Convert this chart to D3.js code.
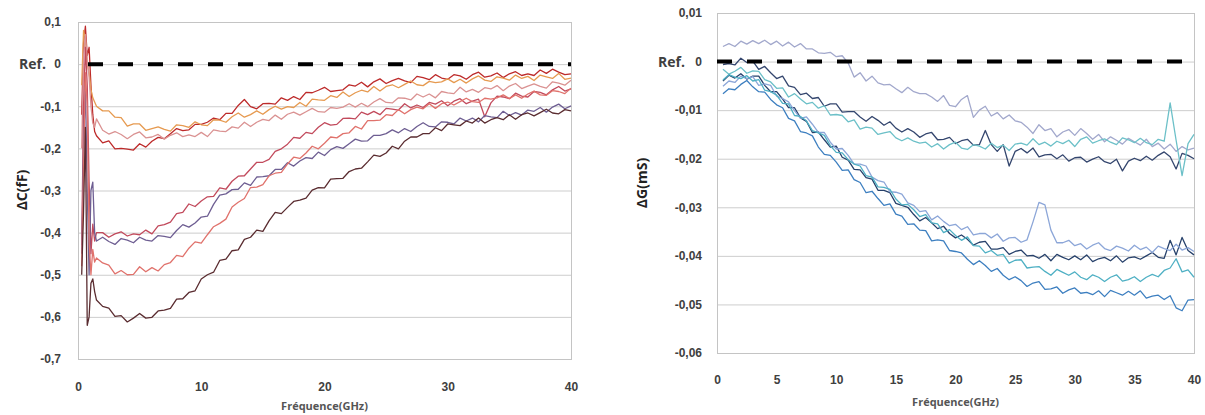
<!DOCTYPE html>
<html>
<head>
<meta charset="utf-8">
<script src="https://cdn.jsdelivr.net/npm/d3@7"></script>
<style>
body { margin: 0; background: #fff; }
svg { display: block; font-family: 'Open Sans', sans-serif; }
.grid line { stroke: #cdcdcd; stroke-width: 1; }
.grid .domain { display: none; }
.xaxis .domain { display: none; }
.tick text { fill: #404040; font-weight: bold; font-size: 12px; }
.series { fill: none; stroke-width: 1.3; stroke-linejoin: round; }
</style>
</head>
<body>
<svg width="1205" height="415"></svg>
<script>
// ---- left chart: delta C (fF) vs frequency ----
var leftFreq = [0.3,0.45,0.6,0.75,0.9,1.05,1.2,1.35,1.5,
    2,2.5,3,3.5,4,4.5,5,5.5,6,6.5,
    7,7.5,8,8.5,9,9.5,10,10.5,11,11.5,
    12,12.5,13,13.5,14,14.5,15,15.5,16,16.5,
    17,17.5,18,18.5,19,19.5,20,20.5,21,21.5,
    22,22.5,23,23.5,24,24.5,25,25.5,26,26.5,
    27,27.5,28,28.5,29,29.5,30,30.5,31,31.5,
    32,32.5,33,33.5,34,34.5,35,35.5,36,36.5,
    37,37.5,38,38.5,39,39.5,40];

var leftRed = [-0.12,0.05,0.09,0.02,0.04,-0.05,-0.12,-0.16,-0.17,
    -0.187,-0.182,-0.201,-0.2,-0.202,-0.204,-0.189,-0.197,-0.183,-0.174,
    -0.177,-0.165,-0.153,-0.158,-0.156,-0.143,-0.143,-0.138,-0.128,-0.132,
    -0.117,-0.117,-0.098,-0.084,-0.101,-0.106,-0.094,-0.093,-0.095,-0.08,
    -0.086,-0.077,-0.084,-0.067,-0.068,-0.062,-0.055,-0.065,-0.063,-0.061,
    -0.049,-0.052,-0.043,-0.054,-0.042,-0.035,-0.046,-0.039,-0.034,-0.04,
    -0.044,-0.029,-0.032,-0.037,-0.025,-0.033,-0.036,-0.025,-0.028,-0.036,
    -0.025,-0.019,-0.031,-0.028,-0.021,-0.032,-0.023,-0.018,-0.027,-0.023,
    -0.027,-0.014,-0.022,-0.012,-0.019,-0.025,-0.023];
var leftOrange = [-0.05,0.08,0.06,0,-0.02,-0.06,-0.08,-0.09,-0.1,
    -0.111,-0.111,-0.126,-0.127,-0.147,-0.142,-0.142,-0.157,-0.153,-0.149,
    -0.155,-0.159,-0.144,-0.146,-0.15,-0.137,-0.144,-0.146,-0.132,-0.133,
    -0.138,-0.125,-0.116,-0.126,-0.12,-0.111,-0.119,-0.108,-0.1,-0.107,
    -0.101,-0.103,-0.091,-0.1,-0.083,-0.085,-0.086,-0.075,-0.079,-0.066,
    -0.077,-0.068,-0.062,-0.066,-0.053,-0.064,-0.053,-0.049,-0.056,-0.048,
    -0.04,-0.049,-0.051,-0.041,-0.044,-0.042,-0.035,-0.044,-0.036,-0.045,
    -0.035,-0.028,-0.038,-0.041,-0.03,-0.033,-0.038,-0.026,-0.034,-0.029,
    -0.039,-0.026,-0.03,-0.034,-0.022,-0.036,-0.033];
var leftPink = [-0.2,0.02,0.07,0.01,-0.03,-0.1,-0.14,-0.15,-0.13,
    -0.157,-0.166,-0.16,-0.167,-0.177,-0.167,-0.161,-0.175,-0.173,-0.167,
    -0.178,-0.169,-0.163,-0.172,-0.168,-0.172,-0.162,-0.172,-0.156,-0.159,
    -0.16,-0.149,-0.152,-0.138,-0.148,-0.138,-0.131,-0.134,-0.121,-0.131,
    -0.119,-0.114,-0.121,-0.113,-0.105,-0.113,-0.114,-0.103,-0.105,-0.102,
    -0.094,-0.102,-0.093,-0.101,-0.09,-0.082,-0.091,-0.092,-0.08,-0.081,
    -0.085,-0.071,-0.078,-0.071,-0.08,-0.065,-0.068,-0.07,-0.055,-0.066,
    -0.06,-0.067,-0.056,-0.059,-0.051,-0.063,-0.052,-0.046,-0.058,-0.052,
    -0.047,-0.053,-0.057,-0.042,-0.045,-0.05,-0.038];
var leftRose = [-0.43,-0.1,0.04,-0.05,-0.28,-0.45,-0.38,-0.42,-0.4,
    -0.4,-0.411,-0.403,-0.398,-0.408,-0.403,-0.405,-0.394,-0.403,-0.384,
    -0.381,-0.375,-0.355,-0.352,-0.332,-0.338,-0.325,-0.315,-0.314,-0.294,
    -0.297,-0.278,-0.266,-0.265,-0.249,-0.233,-0.233,-0.226,-0.207,-0.201,
    -0.19,-0.174,-0.176,-0.162,-0.165,-0.15,-0.139,-0.145,-0.143,-0.129,
    -0.128,-0.13,-0.114,-0.12,-0.112,-0.12,-0.105,-0.107,-0.109,-0.094,
    -0.104,-0.097,-0.103,-0.091,-0.095,-0.087,-0.099,-0.088,-0.082,-0.094,
    -0.088,-0.083,-0.125,-0.092,-0.076,-0.078,-0.082,-0.069,-0.076,-0.078,
    -0.065,-0.067,-0.073,-0.061,-0.053,-0.064,-0.059];
var leftPurple = [-0.45,-0.2,-0.05,-0.3,-0.5,-0.3,-0.28,-0.4,-0.42,
    -0.411,-0.421,-0.428,-0.414,-0.418,-0.424,-0.411,-0.418,-0.42,-0.407,
    -0.409,-0.412,-0.395,-0.381,-0.387,-0.377,-0.363,-0.361,-0.333,-0.311,
    -0.308,-0.298,-0.297,-0.282,-0.288,-0.268,-0.267,-0.265,-0.25,-0.25,
    -0.234,-0.242,-0.23,-0.222,-0.224,-0.209,-0.217,-0.203,-0.196,-0.2,
    -0.189,-0.178,-0.183,-0.182,-0.169,-0.169,-0.165,-0.156,-0.163,-0.153,
    -0.16,-0.148,-0.139,-0.148,-0.149,-0.137,-0.138,-0.142,-0.128,-0.135,
    -0.128,-0.137,-0.122,-0.125,-0.127,-0.112,-0.122,-0.115,-0.121,-0.109,
    -0.112,-0.103,-0.114,-0.102,-0.095,-0.106,-0.099];
var leftSalmon = [-0.48,-0.25,-0.02,-0.1,-0.42,-0.5,-0.44,-0.47,-0.46,
    -0.472,-0.477,-0.498,-0.49,-0.5,-0.499,-0.481,-0.493,-0.483,-0.491,
    -0.476,-0.471,-0.454,-0.457,-0.437,-0.422,-0.425,-0.405,-0.386,-0.378,
    -0.368,-0.339,-0.328,-0.319,-0.293,-0.292,-0.286,-0.265,-0.259,-0.257,
    -0.237,-0.221,-0.224,-0.211,-0.195,-0.201,-0.188,-0.173,-0.175,-0.165,
    -0.163,-0.148,-0.154,-0.134,-0.134,-0.133,-0.12,-0.122,-0.108,-0.118,
    -0.108,-0.102,-0.106,-0.094,-0.105,-0.094,-0.09,-0.097,-0.089,-0.081,
    -0.089,-0.091,-0.081,-0.083,-0.08,-0.073,-0.082,-0.073,-0.081,-0.071,
    -0.064,-0.073,-0.074,-0.063,-0.065,-0.07,-0.057];
var leftBrown = [-0.5,-0.35,-0.15,-0.62,-0.6,-0.52,-0.51,-0.54,-0.56,
    -0.575,-0.579,-0.599,-0.597,-0.612,-0.603,-0.592,-0.603,-0.601,-0.586,
    -0.584,-0.58,-0.558,-0.557,-0.542,-0.538,-0.51,-0.5,-0.494,-0.466,
    -0.463,-0.443,-0.441,-0.416,-0.411,-0.394,-0.397,-0.372,-0.352,-0.355,
    -0.34,-0.326,-0.323,-0.318,-0.299,-0.293,-0.294,-0.273,-0.272,-0.271,
    -0.255,-0.249,-0.247,-0.232,-0.216,-0.219,-0.211,-0.195,-0.201,-0.183,
    -0.173,-0.173,-0.165,-0.165,-0.151,-0.158,-0.142,-0.144,-0.146,-0.135,
    -0.14,-0.128,-0.14,-0.132,-0.127,-0.132,-0.12,-0.131,-0.12,-0.116,
    -0.123,-0.115,-0.107,-0.116,-0.118,-0.108,-0.111];

var leftYTicks = [0.1, 0, -0.1, -0.2, -0.3, -0.4, -0.5, -0.6, -0.7];
var leftXTicks = [0, 10, 20, 30, 40];
var leftColors = ['#bd2a2a', '#e69a50', '#da9292', '#c24a5c', '#6e5e92', '#e0726c', '#5a2c30'];

// ---- right chart: delta G (mS) vs frequency ----
var rightFreq = [0.5,1,1.5,2,2.5,3,3.5,4,4.5,5,
    5.5,6,6.5,7,7.5,8,8.5,9,9.5,10,
    10.5,11,11.5,12,12.5,13,13.5,14,14.5,15,
    15.5,16,16.5,17,17.5,18,18.5,19,19.5,20,
    20.5,21,21.5,22,22.5,23,23.5,24,24.5,25,
    25.5,26,26.5,27,27.5,28,28.5,29,29.5,30,
    30.5,31,31.5,32,32.5,33,33.5,34,34.5,35,
    35.5,36,36.5,37,37.5,38,38.5,39,39.5,40];

var rightLavender = [0.0031,0.0037,0.0031,0.0042,0.0036,0.0043,0.0037,0.0044,0.0035,0.0042,
    0.0032,0.0040,0.0030,0.0037,0.0026,0.0026,0.0018,0.0017,0.0019,0.0010,
    0.0012,-0.0003,-0.0032,-0.0023,-0.0040,-0.0030,-0.0044,-0.0048,-0.0047,-0.0056,
    -0.0064,-0.0053,-0.0062,-0.0066,-0.0066,-0.0073,-0.0082,-0.0070,-0.0090,-0.0093,
    -0.0078,-0.0070,-0.0115,-0.0100,-0.0092,-0.0112,-0.0105,-0.0118,-0.0110,-0.0122,
    -0.0125,-0.0135,-0.0148,-0.0130,-0.0142,-0.0138,-0.0155,-0.0145,-0.0140,-0.0152,
    -0.0138,-0.0148,-0.0160,-0.0150,-0.0165,-0.0155,-0.0162,-0.0170,-0.0158,-0.0165,
    -0.0172,-0.0160,-0.0175,-0.0168,-0.0180,-0.0170,-0.0185,-0.0175,-0.0182,-0.0178];
var rightNavyUp = [-0.0006,-0.0004,-0.0007,0.0007,-0.0002,0.0001,-0.0016,-0.0010,-0.0023,-0.0035,
    -0.0030,-0.0050,-0.0053,-0.0068,-0.0065,-0.0076,-0.0074,-0.0092,-0.0087,-0.0087,
    -0.0104,-0.0103,-0.0103,-0.0114,-0.0123,-0.0113,-0.0121,-0.0131,-0.0124,-0.0137,
    -0.0145,-0.0138,-0.0145,-0.0156,-0.0149,-0.0146,-0.0161,-0.0160,-0.0156,-0.0169,
    -0.0163,-0.0160,-0.0172,-0.0171,-0.0142,-0.0171,-0.0185,-0.0171,-0.0215,-0.0185,
    -0.0179,-0.0188,-0.0178,-0.0196,-0.0192,-0.0191,-0.0200,-0.0192,-0.0205,-0.0198,
    -0.0197,-0.0207,-0.0201,-0.0196,-0.0206,-0.0210,-0.0201,-0.0225,-0.0205,-0.0199,
    -0.0204,-0.0195,-0.0203,-0.0193,-0.0186,-0.0196,-0.0221,-0.0189,-0.0193,-0.0200];
var rightTealUp = [-0.0016,-0.0026,-0.0020,-0.0012,-0.0024,-0.0019,-0.0020,-0.0037,-0.0042,-0.0055,
    -0.0054,-0.0073,-0.0066,-0.0077,-0.0087,-0.0084,-0.0096,-0.0091,-0.0110,-0.0109,
    -0.0111,-0.0124,-0.0120,-0.0139,-0.0135,-0.0137,-0.0150,-0.0147,-0.0144,-0.0157,
    -0.0163,-0.0157,-0.0164,-0.0168,-0.0166,-0.0176,-0.0169,-0.0180,-0.0171,-0.0166,
    -0.0178,-0.0181,-0.0171,-0.0174,-0.0180,-0.0168,-0.0177,-0.0172,-0.0183,-0.0170,
    -0.0168,-0.0172,-0.0159,-0.0171,-0.0166,-0.0174,-0.0164,-0.0169,-0.0162,-0.0175,
    -0.0160,-0.0155,-0.0168,-0.0163,-0.0159,-0.0166,-0.0171,-0.0157,-0.0161,-0.0167,
    -0.0158,-0.0167,-0.0171,-0.0160,-0.0164,-0.0085,-0.0162,-0.0235,-0.0169,-0.0150];
var rightNavyLow = [-0.0040,-0.0028,-0.0034,-0.0025,-0.0036,-0.0030,-0.0030,-0.0049,-0.0062,-0.0062,
    -0.0077,-0.0095,-0.0095,-0.0116,-0.0123,-0.0146,-0.0145,-0.0161,-0.0176,-0.0174,
    -0.0197,-0.0203,-0.0222,-0.0223,-0.0239,-0.0242,-0.0265,-0.0265,-0.0270,-0.0292,
    -0.0296,-0.0300,-0.0315,-0.0328,-0.0321,-0.0332,-0.0344,-0.0339,-0.0354,-0.0363,
    -0.0357,-0.0366,-0.0378,-0.0372,-0.0370,-0.0386,-0.0386,-0.0383,-0.0397,-0.0391,
    -0.0388,-0.0400,-0.0399,-0.0405,-0.0397,-0.0410,-0.0397,-0.0403,-0.0408,-0.0400,
    -0.0408,-0.0398,-0.0412,-0.0406,-0.0403,-0.0410,-0.0400,-0.0413,-0.0404,-0.0402,
    -0.0407,-0.0400,-0.0393,-0.0403,-0.0405,-0.0368,-0.0398,-0.0362,-0.0389,-0.0398];
var rightPeriwinkle = [-0.0051,-0.0040,-0.0043,-0.0030,-0.0035,-0.0031,-0.0049,-0.0046,-0.0049,-0.0071,
    -0.0076,-0.0083,-0.0101,-0.0117,-0.0114,-0.0129,-0.0146,-0.0146,-0.0166,-0.0180,
    -0.0179,-0.0193,-0.0211,-0.0211,-0.0215,-0.0238,-0.0245,-0.0248,-0.0268,-0.0269,
    -0.0273,-0.0291,-0.0296,-0.0309,-0.0307,-0.0326,-0.0318,-0.0329,-0.0338,-0.0335,
    -0.0346,-0.0340,-0.0357,-0.0354,-0.0354,-0.0363,-0.0355,-0.0370,-0.0363,-0.0362,
    -0.0372,-0.0367,-0.0330,-0.0290,-0.0295,-0.0347,-0.0373,-0.0373,-0.0368,-0.0379,
    -0.0375,-0.0386,-0.0378,-0.0373,-0.0385,-0.0389,-0.0380,-0.0384,-0.0390,-0.0378,
    -0.0387,-0.0382,-0.0393,-0.0380,-0.0385,-0.0389,-0.0376,-0.0388,-0.0383,-0.0391];
var rightTealLow = [-0.0038,-0.0027,-0.0032,-0.0035,-0.0029,-0.0040,-0.0037,-0.0059,-0.0062,-0.0069,
    -0.0086,-0.0087,-0.0111,-0.0113,-0.0122,-0.0142,-0.0147,-0.0152,-0.0173,-0.0187,
    -0.0188,-0.0202,-0.0211,-0.0215,-0.0235,-0.0238,-0.0258,-0.0259,-0.0263,-0.0283,
    -0.0295,-0.0294,-0.0305,-0.0319,-0.0315,-0.0332,-0.0334,-0.0352,-0.0346,-0.0358,
    -0.0368,-0.0361,-0.0379,-0.0380,-0.0394,-0.0389,-0.0399,-0.0397,-0.0415,-0.0409,
    -0.0408,-0.0425,-0.0423,-0.0422,-0.0432,-0.0440,-0.0428,-0.0434,-0.0440,-0.0433,
    -0.0444,-0.0449,-0.0439,-0.0444,-0.0453,-0.0444,-0.0439,-0.0452,-0.0449,-0.0443,
    -0.0453,-0.0444,-0.0438,-0.0443,-0.0430,-0.0425,-0.0406,-0.0433,-0.0429,-0.0444];
var rightBlue = [-0.0066,-0.0056,-0.0058,-0.0047,-0.0039,-0.0052,-0.0062,-0.0063,-0.0078,-0.0089,
    -0.0095,-0.0117,-0.0122,-0.0144,-0.0147,-0.0153,-0.0176,-0.0191,-0.0193,-0.0207,
    -0.0224,-0.0223,-0.0243,-0.0249,-0.0270,-0.0267,-0.0282,-0.0296,-0.0293,-0.0314,
    -0.0318,-0.0335,-0.0334,-0.0347,-0.0348,-0.0369,-0.0367,-0.0369,-0.0389,-0.0391,
    -0.0394,-0.0407,-0.0418,-0.0410,-0.0420,-0.0432,-0.0426,-0.0440,-0.0449,-0.0443,
    -0.0451,-0.0463,-0.0456,-0.0453,-0.0469,-0.0468,-0.0464,-0.0477,-0.0470,-0.0466,
    -0.0477,-0.0475,-0.0480,-0.0472,-0.0484,-0.0471,-0.0476,-0.0481,-0.0473,-0.0481,
    -0.0472,-0.0487,-0.0483,-0.0481,-0.0490,-0.0482,-0.0507,-0.0513,-0.0491,-0.0490];

var rightYTicks = [0.01, 0, -0.01, -0.02, -0.03, -0.04, -0.05, -0.06];
var rightXTicks = [0, 5, 10, 15, 20, 25, 30, 35, 40];
var rightColors = ['#a2a8cc', '#34466e', '#6cc0c8', '#27416b', '#8ca6d8', '#4fb0c4', '#3d7fc0'];

// reference level (dashed line)
var refLevel = [{f: 0, v: 0}, {f: 40, v: 0}];

var svg = d3.select('svg');

// "0,1" style labels, hyphen minus like the original
function commaFormat(digits) {
    var f = d3.format('.' + digits + 'f');
    return function(d) {
        if (Math.abs(d) < 1e-9) return '0';
        return f(d).replace('.', ',').replace('\u2212', '-');
    };
}

function drawChart(cfg) {
    var xScale = d3.scaleLinear().domain([0, 40]).range([cfg.left, cfg.right]);
    var yScale = d3.scaleLinear().domain(cfg.yDomain).range([cfg.bottom, cfg.top]);
    var g = svg.append('g');

    // horizontal gridlines + y labels
    var yAxis = d3.axisLeft(yScale)
        .tickValues(cfg.yTicks)
        .tickSize(-(cfg.right - cfg.left))
        .tickPadding(cfg.yPad)
        .tickFormat(commaFormat(cfg.digits));
    g.append('g')
        .attr('class', 'grid')
        .attr('transform', 'translate(' + [cfg.left, 0] + ')')
        .call(yAxis);

    // plot frame
    g.append('rect')
        .attr('x', cfg.left + 0.5)
        .attr('y', cfg.top + 0.5)
        .attr('width', cfg.right - cfg.left)
        .attr('height', cfg.bottom - cfg.top)
        .attr('fill', 'none')
        .attr('stroke', '#c4c4c4');

    var xAxis = d3.axisBottom(xScale)
        .tickValues(cfg.xTicks)
        .tickSize(0)
        .tickPadding(cfg.xPad);
    g.append('g')
        .attr('class', 'xaxis')
        .attr('transform', 'translate(' + [0, cfg.bottom] + ')')
        .call(xAxis);

    // data curves
    var line = d3.line()
        .x(function(d, i) { return xScale(cfg.freq[i]); })
        .y(function(d) { return yScale(d); });
    g.selectAll('.series')
        .data(cfg.series)
        .enter()
        .append('path')
        .attr('class', 'series')
        .attr('d', line)
        .attr('stroke', function(d, i) { return cfg.colors[i]; });

    // dashed reference
    var refLine = d3.line()
        .x(function(d) { return xScale(d.f); })
        .y(function(d) { return yScale(d.v); });
    g.append('path')
        .datum(refLevel)
        .attr('d', refLine)
        .attr('fill', 'none')
        .attr('stroke', '#000')
        .attr('stroke-width', 4)
        .attr('stroke-dasharray', '15,15')
        .attr('stroke-dashoffset', cfg.dashOffset);

    g.append('text')
        .attr('x', cfg.refX)
        .attr('y', yScale(0) + 5)
        .attr('text-anchor', 'end')
        .style('font-size', '14px')
        .style('font-weight', 'bold')
        .style('fill', '#404040')
        .text('Ref.');

    // axis titles
    g.append('text')
        .attr('transform', 'translate(' + [cfg.titleX, cfg.titleY] + ') rotate(-90)')
        .attr('text-anchor', 'middle')
        .style('font-size', '14px')
        .style('font-weight', 'bold')
        .style('fill', '#222')
        .text(cfg.yTitle);
    g.append('text')
        .attr('x', (cfg.left + cfg.right) / 2)
        .attr('y', cfg.xTitleY)
        .attr('text-anchor', 'middle')
        .style('font-size', '11px')
        .style('font-weight', 'bold')
        .style('fill', '#555')
        .text('Fréquence(GHz)');
}

drawChart({
    left: 78, right: 571, top: 22, bottom: 359,
    yDomain: [-0.7, 0.1], yTicks: leftYTicks, xTicks: leftXTicks, digits: 1,
    yPad: 17, xPad: 23, dashOffset: -10,
    freq: leftFreq,
    series: [leftRed, leftOrange, leftPink, leftRose, leftPurple, leftSalmon, leftBrown],
    colors: leftColors,
    refX: 46, titleX: 27, titleY: 190, yTitle: 'ΔC(fF)', xTitleY: 410
});

drawChart({
    left: 717, right: 1194, top: 13, bottom: 353,
    yDomain: [-0.06, 0.01], yTicks: rightYTicks, xTicks: rightXTicks, digits: 2,
    yPad: 15, xPad: 22, dashOffset: 0,
    freq: rightFreq,
    series: [rightLavender, rightNavyUp, rightTealUp, rightNavyLow, rightPeriwinkle, rightTealLow, rightBlue],
    colors: rightColors,
    refX: 685, titleX: 647, titleY: 183, yTitle: 'ΔG(mS)', xTitleY: 406
});
</script>
</body>
</html>
